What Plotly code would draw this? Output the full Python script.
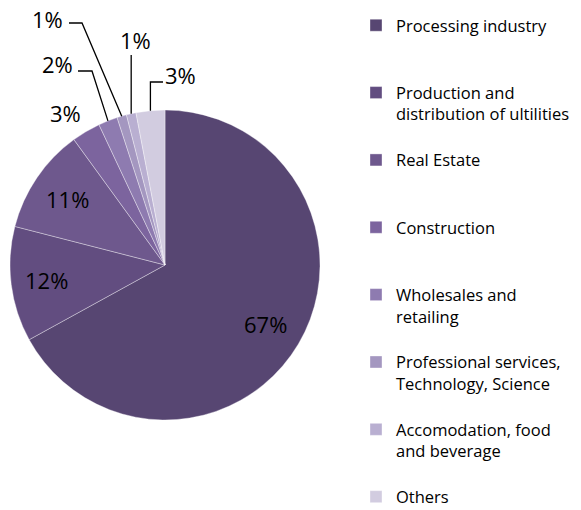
import math
import plotly.graph_objects as go

categories = ["Processing industry", "Production and<br>distribution of ultilities",
              "Real Estate", "Construction", "Wholesales and<br>retailing",
              "Professional services,<br>Technology, Science",
              "Accomodation, food<br>and beverage", "Others"]
shares = [67, 12, 11, 3, 2, 1, 1, 3]
colors = ["#574672", "#624d80", "#6e588d", "#7c649e", "#8e7bb0", "#a497c0", "#b9afd1", "#d2cce0"]

# ---- layout constants (pixels in the photographed page) ----
W, H = 581, 510
OFF = 8                      # page body margin of the browser
CX, CY, R = 165, 265, 155    # pie centre / radius on the page
inside_factor = [0.75, 0.77, 0.76]
# outside label positions (page px) for the small slices, and leader elbows
label_pos = {3: (65, 113), 4: (57, 64), 5: (47, 19), 6: (135, 40), 7: (180, 75)}
leaders = {4: [(92, 71), (78, 71)],
           5: [(82, 23), (69, 23)],
           6: [(None, 55)],
           7: [(None, 82), (163, 82)]}


def px(x):
    return (x - OFF) / W


def py(y):
    return 1 - (y - OFF) / H


# pad every legend entry to three lines so entries are evenly spaced
legend_labels = []
for c in categories:
    n = c.count("<br>") + 1
    legend_labels.append(c + "<br>&nbsp;" * (3 - n))

cx, cy = CX - OFF, CY - OFF
fig = go.Figure(go.Pie(
    labels=legend_labels,
    values=shares,
    sort=False,
    direction="clockwise",
    rotation=0,
    marker=dict(colors=colors, line=dict(color="rgba(255,255,255,0.6)", width=0.6)),
    textinfo="none",
    domain=dict(x=[(cx - R) / W, (cx + R) / W], y=[(H - cy - R) / H, (H - cy + R) / H]),
    hoverinfo="label+percent",
))

total = sum(shares)
annotations = []
shapes = []
cum = 0
for i, v in enumerate(shares):
    mid = (cum + v / 2) / total * 2 * math.pi
    cum += v
    s, c = math.sin(mid), math.cos(mid)
    if i not in label_pos:
        f = inside_factor[i]
        lx, ly = CX + f * R * s, CY - f * R * c
    else:
        lx, ly = label_pos[i]
    annotations.append(dict(x=px(lx), y=py(ly), xref="paper", yref="paper",
                            text=f"{v}%", showarrow=False,
                            font=dict(family="Open Sans", size=22, color="black"),
                            xanchor="center", yanchor="middle"))
    if i in leaders:
        ex, ey = CX + R * s, CY - R * c
        pts = [(ex, ey)]
        for (qx, qy) in leaders[i]:
            pts.append((pts[-1][0] if qx is None else qx, qy))
        path = "M " + " L ".join(f"{px(a):.5f},{py(b):.5f}" for a, b in pts)
        shapes.append(dict(type="path", path=path, xref="paper", yref="paper",
                           line=dict(color="black", width=1.3)))

fig.update_layout(
    width=W, height=H,
    margin=dict(l=0, r=0, t=0, b=0, autoexpand=False),
    paper_bgcolor="white",
    plot_bgcolor="white",
    font=dict(family="Open Sans", color="black"),
    showlegend=True,
    annotations=annotations,
    shapes=shapes,
    legend=dict(x=348 / W, xanchor="left", y=1.0, yanchor="top",
                font=dict(family="Open Sans", size=16.5, color="black"),
                valign="top", bgcolor="rgba(0,0,0,0)", traceorder="normal"),
)

fig.write_html("out.html")
